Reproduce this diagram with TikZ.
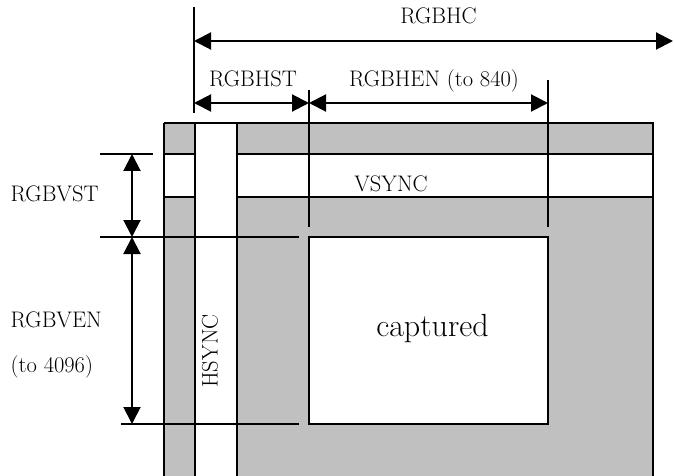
\documentclass[tikz,border=0pt]{standalone}
\usepackage{fontspec}
\usetikzlibrary{arrows.meta}
\definecolor{panelgray}{HTML}{C0C0C0}
\tikzset{
  edge/.style={line width=2pt, line cap=butt},
  dimarrow/.style={line width=2pt, {Triangle[length=17pt,width=17pt]}-{Triangle[length=17pt,width=17pt]}},
  lbl/.style={font=\fontsize{22.5}{27}\selectfont, inner sep=0pt, anchor=base},
  biglbl/.style={font=\fontsize{32}{38}\selectfont, inner sep=0pt, anchor=base},
}
\begin{document}
\begin{tikzpicture}[x=1pt,y=-1pt]
\useasboundingbox (0,0) rectangle (675,476);
% panels
\fill[panelgray] (164,123) rectangle (653,478);
\draw[edge] (164,123) -- (653,123) -- (653,478) (164,478) -- (164,123);
\draw[edge, fill=white] (164,154) rectangle (653,197);
\fill[white] (196,124) rectangle (236,478);
\draw[edge] (195,123) -- (195,478) (237,478) -- (237,123);
\draw[edge, fill=white] (309,237) rectangle (548,424);
% coordinates
\coordinate (hcL) at (194,7);
\coordinate (hcLb) at (194,113);
\coordinate (mA) at (309,90);
\coordinate (mAb) at (309,227);
\coordinate (mB) at (548,80);
\coordinate (mBb) at (548,227);
\coordinate (vA) at (100,154);
\coordinate (vAe) at (153,154);
\coordinate (vB) at (100,237);
\coordinate (vBe) at (299,237);
\coordinate (vC) at (121,424);
\coordinate (vCe) at (299,424);
\coordinate (hcR) at (673,41);
% extension lines
\draw[edge] (hcL) -- (hcLb);
\draw[edge] (mA) -- (mAb);
\draw[edge] (mB) -- (mBb);
\draw[edge] (vA) -- (vAe);
\draw[edge] (vB) -- (vBe);
\draw[edge] (vC) -- (vCe);
% dimension arrows
\draw[dimarrow] (hcL |- hcR) -- (hcR);
\draw[dimarrow] (194,103) -- (mA |- 0,103);
\draw[dimarrow] (mA |- 0,103) -- (mB |- 0,103);
\draw[dimarrow] (132,154) -- (132,237);
\draw[dimarrow] (132,237) -- (132,424);
% labels
\node[lbl] (hc) at (438.5,23.3) {RGBHC};
\node[lbl] (hst) at (253,87) {RGBHST};
\node[lbl] (hen) at (434,87) {RGBHEN (to 840)};
\node[lbl, anchor=base west] (vst) at (10.5,201.7) {RGBVST};
\node[lbl, anchor=base west] (ven) at (10.5,327) {RGBVEN};
\node[lbl, anchor=base west] (ven2) at (10.5,372) {(to 4096)};
\node[lbl] (vsync) at (391,191) {VSYNC};
\node[lbl, rotate=90] (hsync) at (217.7,351) {HSYNC};
\node[biglbl] (cap) at (432.5,336) {captured};
\end{tikzpicture}
\end{document}
